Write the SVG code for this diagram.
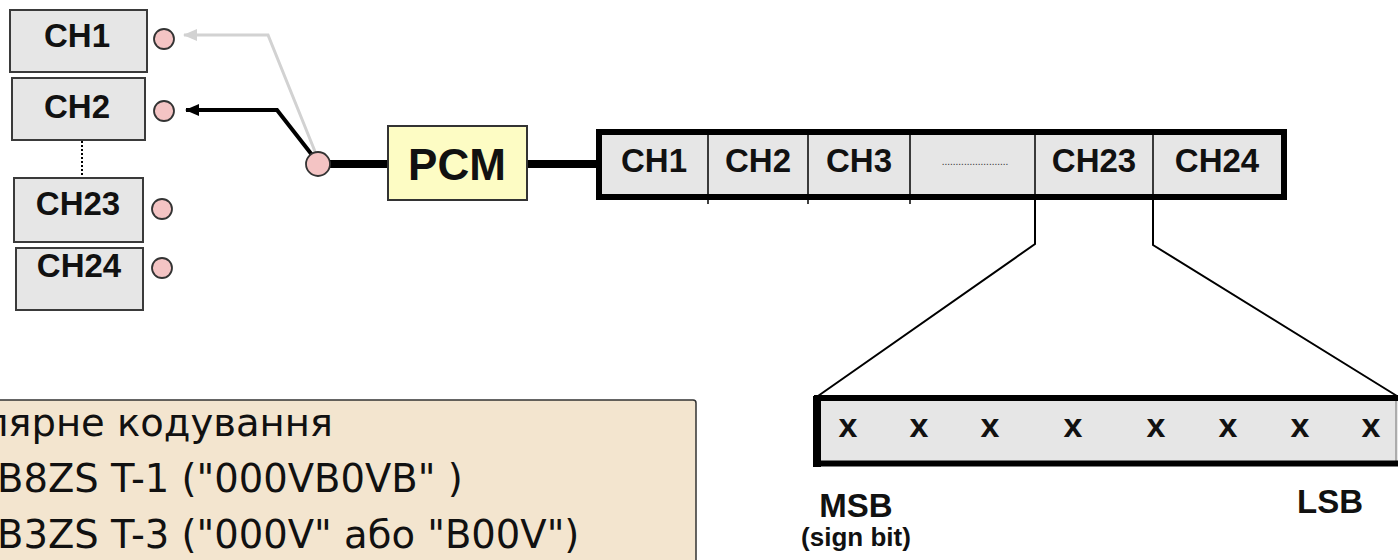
<svg xmlns="http://www.w3.org/2000/svg" width="1398" height="560" viewBox="0 0 1398 560">
<style>
.box{fill:#e6e6e6;stroke:#3a3a3a;stroke-width:2}
.lbl{font-family:"Liberation Sans",Arial,sans-serif;font-weight:bold;fill:#111;text-anchor:middle}
.ch{font-size:33px}
.port{fill:#f4c4c4;stroke:#333;stroke-width:1.8}
.bus{stroke:#000;stroke-width:8;fill:none}
.thin{stroke:#000;stroke-width:2;fill:none}
.note{font-family:"DejaVu Sans",Verdana,sans-serif;font-size:38.5px;fill:#111}
</style>
<defs>
<marker id="ahB" markerUnits="userSpaceOnUse" markerWidth="14" markerHeight="12" refX="13" refY="6" orient="auto">
<path d="M0,0 L14,6 L0,12 Z" fill="#000"/>
</marker>
<marker id="ahG" markerUnits="userSpaceOnUse" markerWidth="14" markerHeight="12" refX="13" refY="6" orient="auto">
<path d="M0,0 L14,6 L0,12 Z" fill="#d2d2d2"/>
</marker>
</defs>
<rect width="1398" height="560" fill="#fff"/>

<g id="connectors">
<path d="M316,154 L268,35 L184,35" stroke="#d2d2d2" stroke-width="3" fill="none" marker-end="url(#ahG)"/>
<path d="M316,160 L277,110 L186,110" stroke="#000" stroke-width="4" fill="none" marker-end="url(#ahB)"/>
<line x1="82" y1="141" x2="82" y2="178" stroke="#000" stroke-width="2" stroke-dasharray="2,2"/>
<line class="bus" x1="328" y1="164" x2="389" y2="164"/>
<line class="bus" x1="526" y1="164" x2="598" y2="164"/>
<polyline class="thin" points="1035,200 1035,244 818,396"/>
<polyline class="thin" points="1153,200 1153,245 1397,396"/>
</g>

<g id="ch1-src"><rect class="box" x="10" y="10" width="137" height="62"/><text class="lbl ch" x="77" y="47">CH1</text></g>
<g id="ch2-src"><rect class="box" x="12" y="78" width="133" height="62"/><text class="lbl ch" x="77" y="118">CH2</text></g>
<g id="ch23-src"><rect class="box" x="14" y="178" width="129" height="64"/><text class="lbl ch" x="78" y="215">CH23</text></g>
<g id="ch24-src"><rect class="box" x="16" y="248" width="127" height="62"/><text class="lbl ch" x="79" y="277">CH24</text></g>

<g id="ports">
<circle class="port" cx="164" cy="39" r="10"/>
<circle class="port" cx="164" cy="111" r="10"/>
<circle class="port" cx="162" cy="209" r="10"/>
<circle class="port" cx="162" cy="268" r="10"/>
</g>
<g id="hub"><circle class="port" cx="318" cy="164" r="12"/></g>

<g id="pcm">
<rect x="388" y="126" width="139" height="74" fill="#fdfcc4" stroke="#333" stroke-width="2"/>
<text class="lbl" x="457" y="180" font-size="44">PCM</text>
</g>

<g id="frame">
<rect x="599" y="132" width="685" height="65" fill="#e6e6e6" stroke="#000" stroke-width="6"/>
<g stroke="#000" stroke-width="1.5">
<line x1="708" y1="134" x2="708" y2="204"/>
<line x1="808" y1="134" x2="808" y2="204"/>
<line x1="910" y1="134" x2="910" y2="204"/>
<line x1="1035" y1="134" x2="1035" y2="204"/>
<line x1="1153" y1="134" x2="1153" y2="204"/>
</g>
<text class="lbl ch" x="654" y="172">CH1</text>
<text class="lbl ch" x="758" y="172">CH2</text>
<text class="lbl ch" x="859" y="172">CH3</text>
<text x="975" y="165" font-family="Liberation Sans,sans-serif" font-size="10" fill="#333" text-anchor="middle">........................</text>
<text class="lbl ch" x="1094" y="172">CH23</text>
<text class="lbl ch" x="1217" y="172">CH24</text>
</g>

<g id="byte">
<path d="M1400,398 L816,398 L816,464 L1400,464" fill="#e6e6e6" stroke="none"/>
<line x1="1396" y1="398" x2="1396" y2="464" stroke="#999" stroke-width="1.5"/>
<path d="M1398,398 L817,398 L817,463.5 L1398,463.5" fill="none" stroke="#000" stroke-width="6"/>
<line x1="817" y1="396" x2="817" y2="467" stroke="#000" stroke-width="8"/>
<g class="lbl" font-size="34">
<text x="848" y="437">x</text>
<text x="919" y="437">x</text>
<text x="990" y="437">x</text>
<text x="1073" y="437">x</text>
<text x="1156" y="437">x</text>
<text x="1228" y="437">x</text>
<text x="1300" y="437">x</text>
<text x="1371" y="437">x</text>
</g>
<text class="lbl" x="856" y="517" font-size="33">MSB</text>
<text class="lbl" x="856" y="546" font-size="26">(sign bit)</text>
<text class="lbl" x="1330" y="513" font-size="33" text-anchor="start">LSB</text>
</g>

<g id="notes">
<rect x="-10" y="400" width="706" height="180" rx="3" fill="#f3e5cf" stroke="#333" stroke-width="1.5"/>
<text class="note" x="333" y="436" text-anchor="end">лярне кодування</text>
<text class="note" x="-3" y="492">B8ZS T-1 ("000VB0VB" )</text>
<text class="note" x="-3" y="548">B3ZS T-3 ("000V" або "B00V")</text>
</g>
</svg>
